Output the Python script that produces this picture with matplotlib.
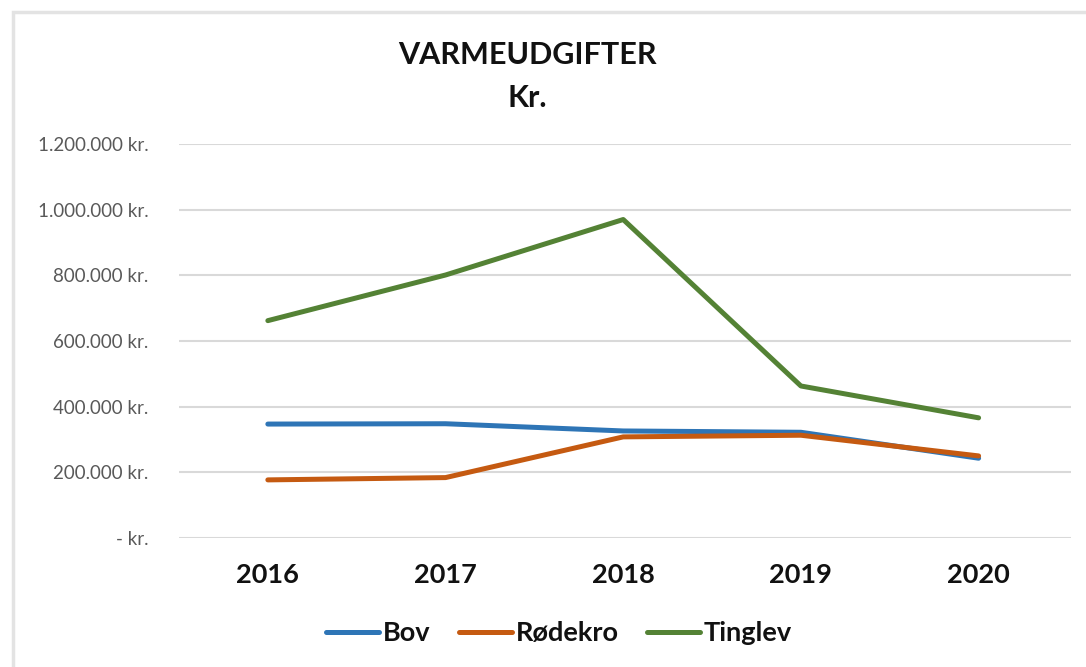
import matplotlib
matplotlib.use("Agg")
import matplotlib.pyplot as plt
from matplotlib.patches import Rectangle
from matplotlib.ticker import FuncFormatter

years = ["2016", "2017", "2018", "2019", "2020"]
bov = [347000, 348000, 326000, 322000, 243000]
roedekro = [177000, 184000, 308000, 313000, 250000]
tinglev = [662000, 801000, 970000, 463000, 366000]
series_names = ["Bov", "Rødekro", "Tinglev"]
y_ticks = [0, 200000, 400000, 600000, 800000, 1000000, 1200000]

colors = ["#2E75B6", "#C55A11", "#548235"]

plt.rcParams["font.family"] = ["Lato", "DejaVu Sans"]

W, H = 1086, 667
fig = plt.figure(figsize=(W / 100, H / 100), dpi=100)
fig.patch.set_facecolor("white")

# light frame around the chart (top and left edges visible)
fig.patches.append(Rectangle((13 / W, -0.05), 1.2, 1 - 12 / H + 0.05,
                             transform=fig.transFigure, fill=False,
                             edgecolor="#e3e3e3", linewidth=2.5, zorder=0))

ax = fig.add_axes([179 / W, 1 - 538 / H, 892 / W, 394 / H])
x = range(len(years))
for vals, name, c in zip([bov, roedekro, tinglev], series_names, colors):
    ax.plot(x, vals, color=c, linewidth=3.6, solid_capstyle="round",
            solid_joinstyle="round", label=name, zorder=3)

ax.set_ylim(0, 1200000)
ax.set_yticks(y_ticks)


def kr(v, pos):
    if v == 0:
        return "- kr."
    return f"{int(v):,} kr.".replace(",", ".")


ax.yaxis.set_major_formatter(FuncFormatter(kr))
ax.set_xticks(list(x))
ax.set_xticklabels(years, fontsize=19.5, fontweight="bold", color="#111111")
ax.tick_params(axis="y", labelsize=13.5, colors="#595959", length=0, pad=22)
ax.tick_params(axis="x", length=0, pad=18)
ax.grid(axis="y", color="#d9d9d9", linewidth=1.5, zorder=0)
ax.set_axisbelow(True)
for s in ax.spines.values():
    s.set_visible(False)
ax.set_xlim(-0.5, 4.52)

fig.text(527 / W, 1 - 55 / H, "VARMEUDGIFTER", ha="center", va="center",
         fontsize=22, fontweight="bold", color="#111111")
fig.text(527 / W, 1 - 98 / H, "Kr.", ha="center", va="center",
         fontsize=22, fontweight="bold", color="#111111")

leg = fig.legend(loc="center", bbox_to_anchor=(559 / W, 1 - 633 / H), ncol=3,
                 frameon=False, handlelength=1.95, handletextpad=0.15,
                 columnspacing=1.05,
                 prop={"family": ["Lato", "DejaVu Sans"], "weight": "bold", "size": 19.5})
for t in leg.get_texts():
    t.set_color("#111111")

fig.savefig("out.png", dpi=100, facecolor="white")
